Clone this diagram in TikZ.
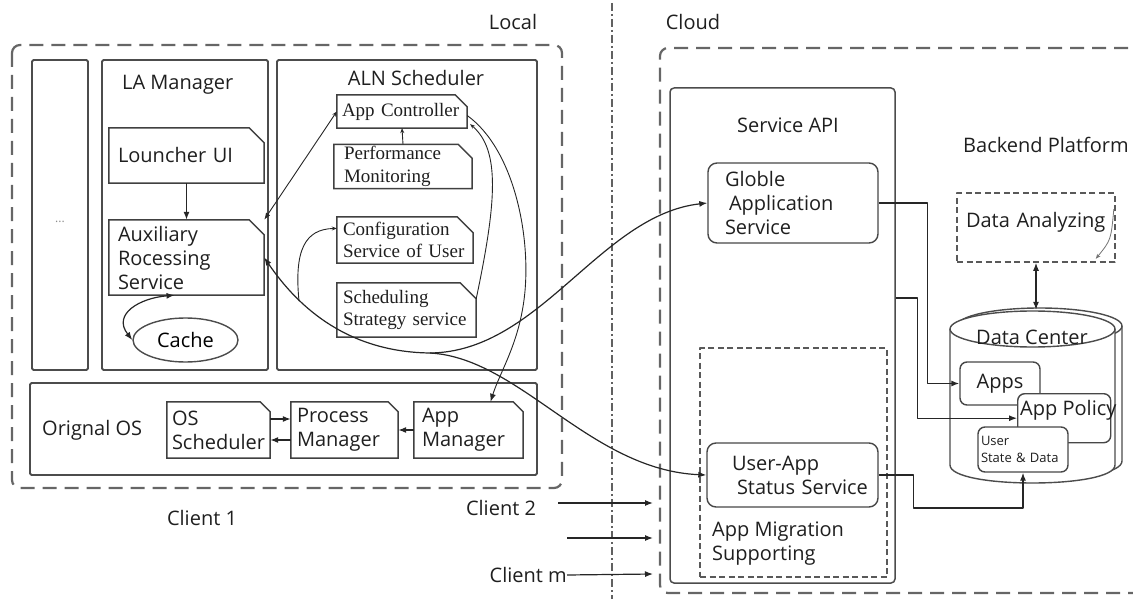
\documentclass[tikz,border=0pt]{standalone}
\usepackage{fontspec}
\setmainfont{Open Sans}
\newfontfamily\serifface{Liberation Serif}
\usetikzlibrary{arrows.meta,calc,shapes.geometric}

\newcommand\mainsize{\fontsize{20}{24}\selectfont}
\newcommand\sersize{\serifface\fontsize{19}{22.5}\selectfont}

% note box with a cut top-right corner: #1 extra style, #2 name, #3,#4 centre,
% #5 width, #6 height, #7 chamfer, #8 text
\newcommand\notebox[8]{%
  \pgfmathsetmacro\nbtw{#5-10}%
  \node[notenode,#1,minimum width=#5pt,minimum height=#6pt,text width=\nbtw pt] (#2) at (#3,#4) {#8};
  \draw[noteline] (#2.south west) -- (#2.north west) -- ([xshift=-#7pt]#2.north east)
    -- ([yshift=-#7pt]#2.north east) -- (#2.south east) -- cycle;
}

\begin{document}
\begin{tikzpicture}[x=1pt,y=-1pt,font=\mainsize,line join=round,
  >={Latex[length=8pt,width=6pt]},
  frame/.style={draw=black!70,line width=1.9pt,rounded corners=1.5pt},
  title/.style={inner sep=0pt,text=black!88},
  notenode/.style={inner xsep=5pt,inner ysep=2pt,align=left,text=black!88},
  noteline/.style={draw=black!75,line width=1.5pt,line join=miter},
  rbox/.style={draw=black!72,line width=1.4pt,rounded corners=9pt,fill=white,
    align=left,inner ysep=2pt,text=black!88},
  bigdash/.style={draw=black!60,line width=2.2pt,dash pattern=on 14pt off 8pt,rounded corners=8pt},
  smalldash/.style={draw=black!65,line width=1.6pt,dash pattern=on 6pt off 3.5pt},
  conn/.style={draw=black!85,line width=1.2pt},
  thin/.style={draw=black!85,line width=0.9pt},
  small/.style={-{Stealth[length=5pt,width=4pt]}},
  cyl/.style={draw=black!70,line width=1.4pt,fill=white}]

\useasboundingbox (0,0) rectangle (1133,599);

% ---------- region labels and divider ----------
\node[title] (local) at (513,22) {Local};
\node[title] (cloud) at (693,22) {Cloud};
\coordinate (divtop) at (612,3);
\coordinate (divbot) at (612,599);
\draw[draw=black!62,line width=2.4pt,dash pattern=on 8pt off 3pt on 2pt off 3pt] (divtop) -- (divbot);

% ---------- client side ----------
\draw[bigdash] (12,45) rectangle (562,488);
\node[title] (client1) at (202,518) {Client 1};

\node[frame,minimum width=56pt,minimum height=310pt] (dots) at (60,215) {};
\node[text=black!45,font=\fontsize{12}{14}\selectfont] (dotstxt) at (60,222) {...};

\node[frame,minimum width=166pt,minimum height=310pt] (lam) at (185,215) {};
\node[title,anchor=west] (lamtitle) at (122,85) {LA Manager};

\node[frame,minimum width=260pt,minimum height=310pt] (aln) at (407,215) {};
\node[title] (alntitle) at (416,78) {ALN Scheduler};

\node[frame,minimum width=507pt,minimum height=92pt] (os) at (283.5,429) {};
\node[title,anchor=west] (ostitle) at (42,430) {Orignal OS};

\notebox{inner xsep=9pt}{lui}{186.5}{155.5}{147}{55}{15}{Louncher UI}
\notebox{inner xsep=9pt}{aux}{186.5}{257.5}{147}{75}{15}{Auxiliary\\Rocessing\\Service}
\node[draw=black!70,line width=1.4pt,ellipse,minimum width=105pt,minimum height=44pt,inner sep=0pt] (cache) at (185.5,340) {Cache};

\notebox{font=\sersize,inner xsep=4pt}{appc}{402}{111.5}{130}{33}{12}{App Controller}
\notebox{font=\sersize,inner xsep=10pt}{perf}{403}{166.5}{128}{43}{14}{Performance\\Monitoring}
\notebox{font=\sersize,inner xsep=6pt}{cfg}{405}{240}{134}{46}{16}{Configuration\\Service of User}
\notebox{font=\sersize,inner xsep=6pt}{sched}{406.5}{310}{137}{54}{16}{Scheduling\\Strategy service}

\notebox{inner xsep=3pt}{osch}{218.5}{430}{103}{56}{10}{OS\\Scheduler}
\notebox{inner xsep=6pt}{pm}{344.5}{430}{105}{56}{10}{Process\\Manager}
\notebox{inner xsep=8pt}{am}{468.5}{430}{103}{56}{10}{App\\Manager}

% ---------- cloud side ----------
\draw[bigdash] (1150,48) -- (660,48) -- (660,593) -- (1150,593);

\node[frame,line width=1.5pt,rounded corners=4pt,minimum width=225pt,minimum height=495pt] (api) at (782.5,335.5) {};
\node[title] (apititle) at (788,125) {Service API};

\node[rbox,minimum width=170pt,minimum height=80pt,text width=136pt,inner xsep=17pt] (glob) at (793,203)
  {Globle\\\hspace{4pt}Application\\Service};

\node[smalldash,minimum width=187pt,minimum height=229pt] (mig) at (793.5,462.5) {};
\node[title,anchor=north west,align=left] (migtxt) at (712,522) {App Migration\\Supporting};
\node[rbox,minimum width=171pt,minimum height=64pt,text width=155pt,inner xsep=8pt] (stat) at (792.5,475)
  {\hspace{17pt}User-App\\\hspace{22pt}Status Service};

\node[title,anchor=west] (backend) at (963,145) {Backend Platform};
\node[smalldash,minimum width=158pt,minimum height=69pt,text width=140pt,align=left,
  inner xsep=9pt,text depth=16pt,text=black!88] (da) at (1036,227.5) {Data Analyzing};

% data centre cylinder (back outline, then front)
\node[minimum width=165pt,minimum height=173pt,inner sep=0pt] (dc) at (1032.5,396.5) {};
\draw[cyl] (957,326) -- (957,461) .. controls (957,485) and (1122,485) .. (1122,461) -- (1122,326);
\draw[cyl] (1039.5,326) ellipse [x radius=82.5,y radius=18];
\draw[cyl] (950,329) -- (950,465) .. controls (950,489) and (1115,489) .. (1115,465) -- (1115,329);
\draw[cyl] (1032.5,329) ellipse [x radius=82.5,y radius=18];
\node[title] (dctitle) at (1032,337) {Data Center};

\node[rbox,rounded corners=7pt,minimum width=80pt,minimum height=43pt,align=center,inner xsep=0pt] (apps) at (1000,383.5) {Apps};
\node[rbox,rounded corners=7pt,minimum width=93pt,minimum height=49pt,inner xsep=0pt,anchor=north west] (pol) at (1017,393) {};
\node[title,anchor=west] (poltxt) at (1020,410) {App Policy};
\node[rbox,rounded corners=7pt,minimum width=90pt,minimum height=45pt,text width=84pt,inner xsep=3pt,
  font=\fontsize{13}{17}\selectfont] (usd) at (1023,449.5) {User\\State \& Data};

% ---------- connectors inside the client ----------
\draw[conn,->] (lui.south) -- (aux.north);
\draw[conn,<->] ([xshift=-12pt]aux.south) .. controls (140,298) and (112,314) .. (cache.west);
\draw[thin,{Latex[length=7pt,width=5pt]}-{Stealth[length=5pt,width=4pt]}] (aux.north east) -- (appc.west);
\draw[thin,small] (perf.north) -- (appc.south);

\coordinate (fork) at (430,353);
\coordinate (cfgfoot) at (299,301);
\draw[conn,<->] (aux.east) .. controls (300,310) and (350,352) .. (fork)
  .. controls (540,352) and (600,215) .. (glob.west);
\draw[conn,->] (fork) .. controls (520,358) and (590,470) .. (stat.west);
\draw[thin,small] (cfgfoot) .. controls (294,250) and (305,229) .. ($(cfg.north west)!0.25!(cfg.south west)$);

\draw[thin,->] ([yshift=-4pt]appc.east) .. controls (515,150) and (532,240) .. (524,300)
  .. controls (518,345) and (500,372) .. ([xshift=22pt]am.north);
\draw[thin,small] ([yshift=-16pt]sched.north east) .. controls (497,200) and (500,150) .. ([shift={(3pt,4pt)}]appc.south east);

\draw[conn,->] ([yshift=11pt]osch.east) -- ([yshift=11pt]pm.west);
\draw[conn,->] ([yshift=-10pt]pm.west) -- ([yshift=-10pt]osch.east);
\draw[conn,->] (am.west) -- (pm.east);

% ---------- client arrows into the cloud ----------
\node[title] (client2) at (501,508) {Client 2};
\node[title,anchor=east] (clientm) at (567,575) {Client m};
\coordinate (c2s) at (558,503);  \coordinate (c2e) at (653,503);
\coordinate (c3s) at (567,538);  \coordinate (c3e) at (653,538);
\coordinate (cme) at (653,574);
\draw[conn,->] (c2s) -- (c2e);
\draw[conn,->] (c3s) -- (c3e);
\draw[conn,->] (clientm.east) -- (cme);

% ---------- connectors inside the cloud ----------
\draw[conn,->] (glob.east) -- ++(49,0) |- (apps.west);
\draw[conn,->] ($(api.east)+(0,-37.5)$) -- ++(22,0) |- ($(pol.north west)!0.5!(pol.south west)$);
\draw[conn,->] (stat.east) -- ++(35,0) -- ++(0,33) -| (usd.south);
\draw[conn,<->] (da.south) -- (da.south |- dc.north);
\draw[draw=black!55,line width=0.8pt,small] ([shift={(-2pt,-17pt)}]da.north east)
  .. controls (1111,240) .. ([shift={(-20pt,4pt)}]da.south east);

\end{tikzpicture}
\end{document}
